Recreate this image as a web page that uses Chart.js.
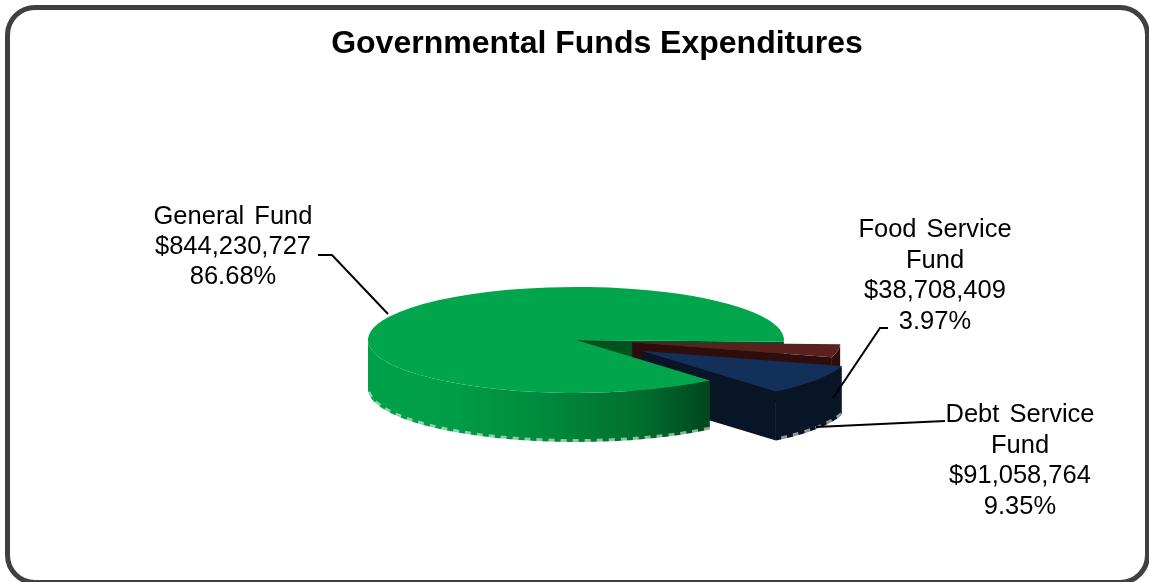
<!DOCTYPE html>
<html>
<head>
<meta charset="utf-8">
<title>Governmental Funds Expenditures</title>
<script src="https://cdn.jsdelivr.net/npm/chart.js@4/dist/chart.umd.js"></script>
<style>
  html, body { margin: 0; padding: 0; background: #fff; overflow: hidden; }
  #wrap { position: relative; width: 1149px; height: 582px; overflow: hidden; }
  #card { position: absolute; left: 5px; top: 5px; width: 1135px; height: 570px;
          border: 5px solid #404040; border-radius: 30px; }
  #myCanvas { position: absolute; left: 0; top: 0; }
</style>
</head>
<body>
<div id="wrap">
  <div id="card"></div>
  <canvas id="myCanvas" width="1149" height="582"></canvas>
</div>
<script>
// drawn clockwise from 3 o'clock, so the big slice paints last
var funds = ['Food Service Fund', 'Debt Service Fund', 'General Fund'];
var amounts = [38708409, 91058764, 844230727];
var topColors = ['#5a211f', '#12305a', '#00a54c'];
var wallColors = ['#2e0d0c', '#071526', '#00521f'];
var explode = [57, 79, 0];

// label text wrapping and anchors
var labelLines = [['Food Service', 'Fund'], ['Debt Service', 'Fund'], ['General Fund']];
var labelCenters = [[935, 230], [1020, 415], [233, 216.5]];
var lineGaps = [30.6, 30.6, 30];
var leaders = [
  [[888, 328], [880, 328], [833, 398]],
  [[945, 421], [816, 427]],
  [[318, 255], [332, 255], [388, 314]]
];

var pieX = 576, pieY = 340, radius = 208, squash = 0.255, depth = 49;
var total = amounts.reduce(function(a, b){ return a + b; }, 0);

function screenPoint(cx, cy, angle){
  return [cx + Math.cos(angle) * radius, cy + Math.sin(angle) * radius * squash];
}

function arcCenter(arc, i){
  var mid = (arc.startAngle + arc.endAngle) / 2;
  return [pieX + Math.cos(mid) * explode[i], pieY + Math.sin(mid) * explode[i] * squash];
}

// flat side cut along the slice's closing radius
function drawFace(ctx, arc, i){
  var c = arcCenter(arc, i);
  var p = screenPoint(c[0], c[1], arc.endAngle);
  ctx.fillStyle = wallColors[i];
  ctx.beginPath();
  ctx.moveTo(c[0], c[1]);
  ctx.lineTo(p[0], p[1]);
  ctx.lineTo(p[0], p[1] + depth);
  ctx.lineTo(c[0], c[1] + depth);
  ctx.closePath();
  ctx.fill();
}

// curved rim, only the part that faces front
function drawRim(ctx, arc, i, fill){
  var c = arcCenter(arc, i);
  var a0 = Math.max(arc.startAngle, 0);
  var a1 = Math.min(arc.endAngle, Math.PI);
  if(a1 <= a0) return;
  ctx.fillStyle = fill;
  ctx.beginPath();
  ctx.ellipse(c[0], c[1], radius, radius * squash, 0, a0, a1);
  ctx.ellipse(c[0], c[1] + depth, radius, radius * squash, 0, a1, a0, true);
  ctx.closePath();
  ctx.fill();

  // rough pale fringe along the bottom edge
  ctx.save();
  ctx.strokeStyle = 'rgba(255,255,255,0.55)';
  ctx.lineWidth = 4;
  ctx.setLineDash([6, 6]);
  ctx.beginPath();
  ctx.ellipse(c[0], c[1] + depth - 1, radius, radius * squash, 0, a0, a1);
  ctx.stroke();
  ctx.restore();
}

function drawTop(ctx, arc, i){
  var c = arcCenter(arc, i);
  ctx.save();
  ctx.translate(c[0], c[1]);
  ctx.scale(1, squash);
  ctx.translate(-arc.x, -arc.y);
  arc.draw(ctx);
  ctx.restore();
}

var pie3d = {
  id: 'pie3d',
  beforeDatasetDraw: function(chart, args){
    var ctx = chart.ctx;
    var arcs = args.meta.data;
    var last = arcs.length - 1;

    var shade = ctx.createLinearGradient(368, 0, 709, 0);
    shade.addColorStop(0, '#00a04a');
    shade.addColorStop(0.25, '#009d47');
    shade.addColorStop(0.55, '#00873b');
    shade.addColorStop(0.8, '#006f2d');
    shade.addColorStop(1, '#00471d');

    // the big slice's cut sits behind the two pulled out slices
    drawFace(ctx, arcs[last], last);
    arcs.forEach(function(arc, i){
      if(i !== last) drawFace(ctx, arc, i);
      drawRim(ctx, arc, i, i === last ? shade : wallColors[i]);
      drawTop(ctx, arc, i);
    });
    return false;
  },
  afterDatasetsDraw: function(chart){
    var ctx = chart.ctx;
    ctx.save();
    ctx.strokeStyle = '#000';
    ctx.lineWidth = 2;
    leaders.forEach(function(pts){
      ctx.beginPath();
      pts.forEach(function(p, i){
        if(i === 0) ctx.moveTo(p[0], p[1]); else ctx.lineTo(p[0], p[1]);
      });
      ctx.stroke();
    });
    ctx.fillStyle = '#000';
    ctx.font = '25.5px "Liberation Sans"';
    ctx.wordSpacing = '3px';
    ctx.textAlign = 'center';
    ctx.textBaseline = 'middle';
    funds.forEach(function(name, i){
      var lines = labelLines[i].concat([
        '$' + amounts[i].toLocaleString('en-US'),
        (amounts[i] / total * 100).toFixed(2) + '%'
      ]);
      lines.forEach(function(line, j){
        ctx.fillText(line, labelCenters[i][0], labelCenters[i][1] + j * lineGaps[i]);
      });
    });
    ctx.restore();
  }
};

var chart = new Chart(document.getElementById('myCanvas'), {
  type: 'pie',
  data: {
    labels: funds,
    datasets: [{
      data: amounts,
      backgroundColor: topColors,
      borderWidth: 0,
      radius: radius
    }]
  },
  options: {
    responsive: false,
    animation: false,
    events: [],
    rotation: 92,
    layout: { padding: { left: 45 } },
    plugins: {
      legend: { display: false },
      tooltip: { enabled: false },
      title: {
        display: true,
        text: 'Governmental Funds Expenditures',
        color: '#000',
        font: { family: '"Liberation Sans"', size: 32, weight: 'bold' },
        padding: { top: 25, bottom: 36 }
      }
    }
  },
  plugins: [pie3d]
});
</script>
</body>
</html>
